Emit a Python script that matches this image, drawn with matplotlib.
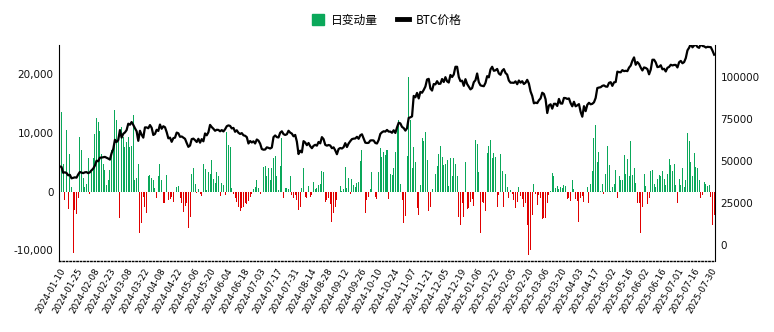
import matplotlib
matplotlib.use('Agg')
import matplotlib.pyplot as plt
import matplotlib.ticker as mticker
from matplotlib.patches import Patch
from matplotlib.lines import Line2D
import numpy as np
import pandas as pd

plt.rcParams['font.family'] = ['DejaVu Sans', 'Noto Sans CJK SC']

# ---- categories: trading days of the data source ----
holidays = ['2024-01-15', '2024-02-19', '2024-03-29', '2024-05-27', '2024-06-19',
            '2024-09-02', '2024-12-25', '2025-01-01', '2025-01-09', '2025-01-20',
            '2025-02-17', '2025-04-18', '2025-05-26', '2025-06-19', '2025-07-04']
dates = pd.bdate_range('2024-01-10', '2025-08-01', freq='C', holidays=holidays)
date_labels = list(dates.strftime('%Y-%m-%d'))

# ---- BTC price (USD) by month ----
price_2024_01 = [46600, 46300, 42800, 43100, 42700, 41300, 41600, 39500, 39800, 40100, 39900, 41800, 43300, 42900, 42600]
price_2024_02 = [43100, 43200, 42600, 43100, 44300, 45300, 47100, 50000, 49700, 51800, 51900, 52100, 52300, 51800, 51300, 50700, 54500, 57000, 62500, 61200]
price_2024_03 = [62400, 68300, 63800, 66100, 66900, 68300, 72100, 71500, 73100, 71400, 69400, 67600, 61900, 67900, 65500, 63800, 69900, 69900, 69400, 71300]
price_2024_04 = [69700, 65400, 66000, 68500, 67800, 71600, 69100, 70600, 70000, 67100, 63400, 63800, 61300, 63500, 63800, 66800, 66400, 64300, 64500, 63800, 63100, 60600]
price_2024_05 = [58300, 59100, 62900, 63200, 62300, 61200, 63100, 60800, 62900, 61600, 66300, 65200, 67000, 71400, 70100, 69100, 67900, 68500, 68400, 67600, 68300, 67500]
price_2024_06 = [68800, 70600, 71100, 70800, 69300, 69600, 67300, 68200, 66700, 66000, 66500, 65200, 64900, 64100, 60300, 61800, 60900, 61600, 60300]
price_2024_07 = [62700, 62000, 60200, 57000, 56600, 56700, 58000, 57700, 57300, 57900, 64100, 65100, 64100, 63900, 66700, 67600, 65900, 65400, 65800, 67900, 66800, 66200, 64600]
price_2024_08 = [65400, 61400, 54000, 56000, 55000, 61700, 60900, 59300, 60600, 58700, 57500, 58900, 59500, 59000, 61200, 60400, 64100, 62900, 59500, 59000, 59400, 59100]
price_2024_09 = [57500, 58000, 56200, 53900, 57000, 57600, 57300, 58100, 60500, 58200, 60300, 61700, 62900, 63200, 63300, 64300, 63100, 65200, 65800, 63300]
price_2024_10 = [60800, 60600, 60700, 62100, 62200, 62100, 60600, 60300, 62400, 66000, 67000, 67600, 67400, 68400, 67400, 67400, 66700, 68200, 66600, 69900, 72700, 72300, 70200]
price_2024_11 = [69500, 68000, 69400, 75600, 75900, 76500, 88700, 87900, 90500, 87200, 91100, 90600, 92300, 94300, 98500, 98900, 93100, 91900, 95800, 95600, 97500]
price_2024_12 = [95900, 96000, 98800, 97000, 99900, 97400, 96700, 101200, 100000, 101500, 106100, 106100, 100000, 97500, 97800, 94700, 98700, 95800, 94200, 92600, 93400]
price_2025_01 = [96900, 98100, 102100, 96900, 95000, 94700, 94500, 96500, 100500, 99800, 104500, 106100, 103700, 104000, 104800, 102100, 101300, 103700, 104700, 102400]
price_2025_02 = [101400, 97900, 96600, 96600, 96500, 97400, 95700, 97900, 96600, 97500, 95800, 96600, 98300, 96100, 91400, 88700, 84300, 84700, 84400]
price_2025_03 = [86100, 87200, 90600, 89900, 86700, 78500, 83000, 83700, 81100, 84000, 84000, 82700, 86900, 84200, 84100, 87500, 87400, 86900, 87200, 84400, 82500]
price_2025_04 = [85200, 82500, 83100, 83800, 79200, 76300, 82600, 79600, 83400, 84600, 83700, 84000, 84900, 87500, 93400, 93700, 93900, 94700, 95000, 94300, 94200]
price_2025_05 = [96500, 96900, 94700, 96800, 97000, 103200, 102900, 102800, 104100, 103500, 103700, 103500, 105600, 106800, 109700, 111700, 107300, 108900, 107800, 105600, 103900]
price_2025_06 = [105700, 105400, 104700, 101600, 104400, 110300, 110300, 108700, 105900, 106100, 107000, 104600, 104900, 103300, 105500, 106000, 107300, 106900, 107200, 107200]
price_2025_07 = [105700, 108800, 109600, 108200, 108900, 111300, 115900, 117500, 119800, 117700, 118800, 119300, 117900, 117400, 119900, 118500, 118300, 117600, 118000, 117900, 117800, 115700]
price_2025_08 = [113300]

# ---- daily change (bars) ----
flow_a = [0, 13600, 4800, -1400, 10500, -3000, 6400, 800, -10400, -3100, -3800, -1100, 9400, 7100, 2300, 850, 1400, 5700, -300, 3400,
          5700, 9800, 12500, 11900, 10400, 6500, 4800, 3700, 1100, 2000, 3700, 7100, 7400, 14000, 12200, 9700, -4500, 11100, 9400, 7700,
          8400, 9400, 7600, 7800, 13100, 2000, 2300, 4800, -7100, -5400, -850, -2600, -3600, 2600, 2800, 2300, 2000, 600, -1100, 2600,
          4800, 2000, -2000, -2000, 2800, -1400]
flow_b = [-1300, -900, -1700, 0, 850, 1000, -1100, -2000, -3400, -2400, -2000, -6200, -4300, 3100, 4100, 1400, -200, 400, -300, -700,
          4800, 3800, 300, 3400, 3100, 5400, 2100, 1500, 3400, 2600, -700, 1500, 1100, -600, 10200, 8000, 7600, 700, -300, -1000,
          -1700, -2600, -3200, -2800, -2600, -2000, -2100, -1600, -900, -300, 400, 850, 2000, 600, -300, 0, 4300, 4400, 2600, 4000,
          2000, 4000, 5700, 6100, 2600]
flow_c = [300, 4400, 9100, -1100, 600, 600, 500, 2600, -600, -1000, -600, -1400, -3100, -2600, 600, 4100, -900, -1100, 1000, -900,
          -600, 1700, 500, 700, 1200, 1400, 3600, 3400, -1700, -1400, -1100, -2100, -5200, -3700, -2600, -1400, 0, 1000, 200, 500,
          4300, 700, 2400, -300, 2100, 1100, 850, 1500, 1700, 5300, 7100, 0, -3600, -1400, -900, 400, 3400, 0, -900, -1300,
          3400, 7400, 6000, 6800, 6200, 7100]
flow_d = [-1300, 3000, 2800, 4000, 6800, 10800, 12300, 1400, -1400, -5400, -4100, 6100, 19500, 12200, 4100, 7600, 5000, -2800, -3900, 1100,
          9100, 8700, 10200, 5400, -3200, -2600, 400, 0, 3000, 4400, 6500, 7800, 6000, 4500, 4800, 5400, 1000, 5700, 2600, 5700,
          4800, 2600, -4300, -5600, -2000, -4300, 5100, -3000, -2800, -1700, -1300, -2400, 8900, 8100, 3400, -7100, -1700, -1900, -3200, 6600,
          7800, 8900, 5700, 6600, 5900, -2600]
flow_e = [-600, 6400, 3600, -2600, 3100, 850, -1000, 300, -400, -1400, -2700, -1700, 850, -800, -1200, -2600, -2000, -5600, -10700, -9900,
          -4000, 1300, -400, -2300, -500, -1100, -4700, -4500, -4500, -1900, -500, 200, 3200, 2600, 700, 1000, 500, 800, 700, 1100,
          900, -1300, -1100, -1500, 2000, 400, -1300, -1500, -5100, -1100, -800, -1700, 0, 800, -2000, 1400, 3500, 9100, 11400, 5100,
          6800, 200, 1400, -300, 3100, 7800]
flow_f = [4500, 200, 850, 1300, 3700, -1100, 2700, 2000, 2000, 6200, 3000, 5500, 2600, 8700, 2800, 4000, 1500, -2000, -2000, -7000,
          -2600, 3100, 1000, -2100, -1100, 3500, 3700, 1400, 850, 2100, 2800, 2600, 3600, 2100, 1100, 3100, 5600, 4500, 3600, 4800,
          1100, -2000, 2100, 1100, 4000, 850, 2000, 10000, 8700, 5100, 2600, 6600, 4300, 4000, 2000, -1100, -600, 1700, 1300, 1000,
          1100, -850, -5700, -4000]

price = np.array(price_2024_01 + price_2024_02 + price_2024_03 + price_2024_04 + price_2024_05 +
                 price_2024_06 + price_2024_07 + price_2024_08 + price_2024_09 + price_2024_10 +
                 price_2024_11 + price_2024_12 + price_2025_01 + price_2025_02 + price_2025_03 +
                 price_2025_04 + price_2025_05 + price_2025_06 + price_2025_07 + price_2025_08, dtype=float)
flow = np.array(flow_a + flow_b + flow_c + flow_d + flow_e + flow_f, dtype=float)

N = min(len(dates), len(price), len(flow))
price = price[:N]
flow = flow[:N]
date_labels = date_labels[:N]
x = np.arange(N)

GREEN = '#0aa85a'
RED = '#e00000'

fig = plt.figure(figsize=(7.74, 3.32), dpi=100)
ax = fig.add_axes([59 / 774, 1 - 261 / 332, 656 / 774, 216 / 332])
colors = np.where(flow >= 0, GREEN, RED)
ax.bar(x, flow, width=0.6, color=colors, linewidth=0, zorder=1)
ax.set_xlim(-0.5, N - 0.5)
ax.set_ylim(-11800, 25000)
ax.set_yticks([-10000, 0, 10000, 20000])
ax.yaxis.set_major_formatter(mticker.FuncFormatter(lambda v, p: f'{v:,.0f}'))

ax2 = ax.twinx()
ax2.plot(x, price, color='black', lw=1.6, solid_joinstyle='round')
ax2.set_ylim(-9850, 119100)
ax2.set_yticks([0, 25000, 50000, 75000, 100000])
ax2.yaxis.set_major_formatter(mticker.FuncFormatter(lambda v, p: f'{v:.0f}'))
ax2.set_xlim(-0.5, N - 0.5)

ax.set_xticks(x[::10])
ax.set_xticklabels(date_labels[::10], rotation=60, ha='right', rotation_mode='anchor', fontsize=6.3)
ax.tick_params(axis='x', length=0, pad=4)
ax.tick_params(axis='y', length=0, pad=4, labelsize=7.5, colors='#111111')
ax2.tick_params(axis='y', length=0, pad=4, labelsize=7.5, colors='#111111')

for a in (ax, ax2):
    a.spines['top'].set_visible(False)
    a.spines['bottom'].set_visible(False)
    a.spines['left'].set_color('black')
    a.spines['right'].set_color('black')
ax.spines['right'].set_visible(False)
ax2.spines['left'].set_visible(False)
ax.spines['bottom'].set_visible(True)
ax.spines['bottom'].set_linestyle((0, (1, 1.5)))
ax.spines['bottom'].set_linewidth(1.0)
ax.spines['bottom'].set_color('black')

handles = [Patch(facecolor=GREEN, edgecolor=GREEN, label='日变动量'),
           Line2D([0], [0], color='black', lw=3.5, label='BTC价格')]
fig.legend(handles=handles, loc='center', bbox_to_anchor=(0.5, 0.94), ncol=2, frameon=False,
           prop={'family': ['Noto Sans CJK SC', 'DejaVu Sans'], 'size': 8.5},
           handlelength=1.0, handleheight=1.1, columnspacing=1.6, handletextpad=0.6)

fig.savefig('out.png', dpi=100)
